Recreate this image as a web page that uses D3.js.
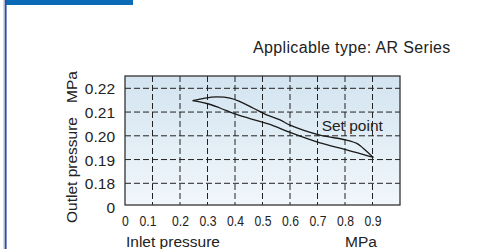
<!DOCTYPE html>
<html><head><meta charset="utf-8">
<script src="https://cdn.jsdelivr.net/npm/d3@7"></script>
<style>
html,body{margin:0;padding:0;background:#fff;}
svg{display:block;}
text{font-family:"Liberation Sans",Arial,sans-serif;fill:#222;}
</style></head>
<body>
<svg id="c" width="477" height="249"></svg>
<script>
const title = "Applicable type: AR Series";
const xTickValues = [0,0.1,0.2,0.3,0.4,0.5,0.6,0.7,0.8,0.9];
const xTickLabels = ["0","0.1","0.2","0.3","0.4","0.5","0.6","0.7","0.8","0.9"];
const yTickValues = [0.18,0.19,0.20,0.21,0.22];
const yTickLabels = ["0.18","0.19","0.20","0.21","0.22"];
const xGrid = [0.1,0.2,0.3,0.4,0.5,0.6,0.7,0.8,0.9];
// Inlet pressure (MPa) vs outlet pressure (MPa)
const upperX = [0.246,0.291,0.333,0.382,0.418,0.467,0.515,0.564,0.600,0.709,0.806,0.843,0.867,0.903];
const upperY = [0.2148,0.2159,0.2164,0.2159,0.2144,0.2116,0.2088,0.2067,0.2045,0.2003,0.1982,0.1968,0.1947,0.1909];
const lowerX = [0.246,0.297,0.345,0.406,0.467,0.527,0.600,0.709,0.806,0.903];
const lowerY = [0.2148,0.2136,0.2117,0.2090,0.2068,0.2048,0.2014,0.1970,0.1941,0.1909];
const annotation = "Set point";
const annX = 0.715, annY = 0.2021;

const svg = d3.select("#c");
const L = 125, R = 400, T = 76, B = 205;
const x = d3.scaleLinear().domain([0,1]).range([L,R]);
const y = d3.scaleLinear().domain([0.18,0.22]).range([183.3,88.3]);

// decorations
svg.append("rect").attr("x",6).attr("y",0).attr("width",127).attr("height",5).attr("fill","#0a6cb6");
svg.append("rect").attr("x",3.5).attr("y",0).attr("width",1.5).attr("height",249).attr("fill","#aab6d0");
svg.append("rect").attr("x",5).attr("y",0).attr("width",1.6).attr("height",249).attr("fill","#2b4ea6");

const defs = svg.append("defs");
const g = defs.append("linearGradient").attr("id","bg").attr("x1",0).attr("y1",0).attr("x2",0).attr("y2",1);
g.append("stop").attr("offset","0%").attr("stop-color","#d3e4f0");
g.append("stop").attr("offset","100%").attr("stop-color","#f1f7fb");

svg.append("rect").attr("x",L).attr("y",T).attr("width",R-L).attr("height",B-T).attr("fill","url(#bg)");

// grid
svg.append("g").selectAll("line").data(xGrid).join("line")
  .attr("x1",d=>x(d)).attr("x2",d=>x(d)).attr("y1",T).attr("y2",B)
  .attr("stroke","#222").attr("stroke-width",1).attr("stroke-dasharray","6,3");
svg.append("g").selectAll("line").data(yTickValues).join("line")
  .attr("x1",L).attr("x2",R).attr("y1",d=>y(d)).attr("y2",d=>y(d))
  .attr("stroke","#222").attr("stroke-width",1).attr("stroke-dasharray","6,3");

// frame
svg.append("rect").attr("x",L).attr("y",T).attr("width",R-L).attr("height",B-T)
  .attr("fill","none").attr("stroke","#333").attr("stroke-width",1.3);

// axes labels via d3 axes
const xAxis = d3.axisBottom(x).tickValues(xTickValues).tickFormat((d,i)=>xTickLabels[i]).tickSize(0).tickPadding(0);
const xa = svg.append("g").attr("transform",`translate(0,${B})`).call(xAxis);
xa.select(".domain").remove();
xa.selectAll("text").attr("y",20.7).attr("dy",null)
  .attr("font-family","Liberation Sans, Arial, sans-serif").attr("font-size",14.5).attr("fill","#222")
  .attr("transform",(d)=> d===0.1 ? "translate(-5,0) scale(0.84,1)" : "scale(0.84,1)");

const yAxis = d3.axisLeft(y).tickValues(yTickValues).tickFormat((d,i)=>yTickLabels[i]).tickSize(0).tickPadding(10);
const ya = svg.append("g").attr("transform",`translate(${L},0)`).call(yAxis);
ya.select(".domain").remove();
ya.selectAll("text").attr("dy","0.36em")
  .attr("font-family","Liberation Sans, Arial, sans-serif").attr("font-size",15.5).attr("fill","#222");

svg.append("text").attr("x",115).attr("y",213).attr("text-anchor","end").attr("font-size",15.5).text("0");

// curves
const line = d3.line().x(d=>x(d[0])).y(d=>y(d[1])).curve(d3.curveCatmullRom.alpha(0.5));
svg.append("path").datum(upperX.map((v,i)=>[v,upperY[i]])).attr("d",line)
  .attr("fill","none").attr("stroke","#1a1a1a").attr("stroke-width",1.3);
svg.append("path").datum(lowerX.map((v,i)=>[v,lowerY[i]])).attr("d",line)
  .attr("fill","none").attr("stroke","#1a1a1a").attr("stroke-width",1.3);

svg.append("text").attr("x",x(annX)).attr("y",y(annY)).attr("font-size",15.5).text(annotation);

// titles
svg.append("text").attr("x",253).attr("y",53).attr("font-size",16).attr("letter-spacing",0.35).text(title);
svg.append("text").attr("x",126).attr("y",246.5).attr("font-size",15.5).text("Inlet pressure");
svg.append("text").attr("x",345).attr("y",246.5).attr("font-size",15.5).text("MPa");
svg.append("text").attr("transform","translate(77,223) rotate(-90)").attr("font-size",15.5).text("Outlet pressure");
svg.append("text").attr("transform","translate(77,71) rotate(-90)").attr("text-anchor","end").attr("font-size",15.5).text("MPa");
</script>
</body></html>
